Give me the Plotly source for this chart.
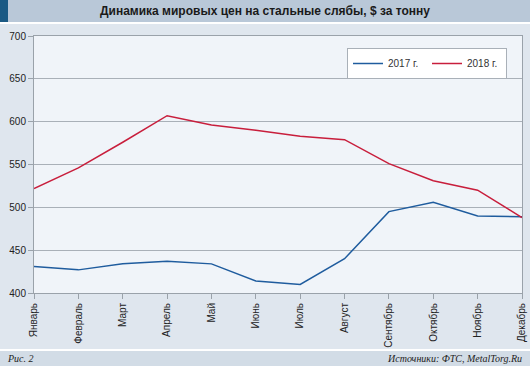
import plotly.graph_objects as go

months = ["Январь", "Февраль", "Март", "Апрель", "Май", "Июнь", "Июль",
          "Август", "Сентябрь", "Октябрь", "Ноябрь", "Декабрь"]
prices_2017 = [431, 427, 434, 437, 434, 414, 410, 440, 495, 506, 490, 489]
prices_2018 = [522, 546, 576, 607, 596, 590, 583, 579, 551, 531, 520, 488]
y_ticks = [400, 450, 500, 550, 600, 650, 700]

W, H = 530, 366
L, R, T, B = 34, 8, 36, 73
pw, ph = W - L - R, H - T - B

def px(x):
    return (x - L) / pw

def py(y):
    return (H - B - y) / ph

fig = go.Figure()
fig.add_trace(go.Scatter(x=months, y=prices_2017, mode="lines", name="2017 г.",
                         line=dict(color="#1f5c9e", width=1.5)))
fig.add_trace(go.Scatter(x=months, y=prices_2018, mode="lines", name="2018 г.",
                         line=dict(color="#c81e3c", width=1.5)))

shapes = [
    dict(type="rect", xref="paper", yref="paper", x0=px(0), x1=px(W), y0=py(22), y1=py(0),
         fillcolor="#b9c8d8", line=dict(width=0), layer="below"),
    dict(type="rect", xref="paper", yref="paper", x0=px(0), x1=px(8), y0=py(22), y1=py(0),
         fillcolor="#1b5a84", line=dict(width=0), layer="below"),
    dict(type="rect", xref="paper", yref="paper", x0=px(0), x1=px(W), y0=py(24), y1=py(22),
         fillcolor="#ffffff", line=dict(width=0), layer="below"),
    dict(type="rect", xref="paper", yref="paper", x0=px(0), x1=px(W), y0=py(351), y1=py(349),
         fillcolor="#ffffff", line=dict(width=0), layer="below"),
    dict(type="rect", xref="paper", yref="paper", x0=px(0), x1=px(W), y0=py(H), y1=py(351),
         fillcolor="#d2dce6", line=dict(width=0), layer="below"),
]

annotations = [
    dict(text="<b>Динамика мировых цен на стальные слябы, $ за тонну</b>",
         xref="paper", yref="paper", x=px(265), y=py(11), showarrow=False,
         xanchor="center", yanchor="middle",
         font=dict(family="Liberation Sans, Arial", size=12, color="#1a1a1a")),
    dict(text="<i>Рис. 2</i>", xref="paper", yref="paper", x=px(5), y=py(358),
         showarrow=False, xanchor="left", yanchor="middle",
         font=dict(family="Liberation Serif, Times New Roman", size=10, color="#222")),
    dict(text="<i>Источники: ФТС, MetalTorg.Ru</i>", xref="paper", yref="paper",
         x=px(524), y=py(358), showarrow=False, xanchor="right", yanchor="middle",
         font=dict(family="Liberation Serif, Times New Roman", size=10, color="#222")),
]

fig.update_layout(
    width=W, height=H,
    margin=dict(l=L, r=R, t=T, b=B, autoexpand=False),
    paper_bgcolor="#dfe6ee",
    plot_bgcolor="#f0f4f9",
    shapes=shapes,
    annotations=annotations,
    showlegend=True,
    legend=dict(orientation="h", x=px(507), xanchor="right", y=py(48), yanchor="top",
                bgcolor="#ffffff", bordercolor="#a9b0b8", borderwidth=1,
                font=dict(family="Liberation Sans, Arial", size=10, color="#333"),
                itemwidth=30, entrywidth=34, tracegroupgap=0),
    xaxis=dict(type="category", range=[0, len(months) - 1], tickangle=-90,
               showgrid=False, ticks="outside", ticklen=5, tickcolor="#9aa2aa",
               showline=True, linecolor="#9aa2aa", linewidth=1, mirror=True,
               tickfont=dict(family="Liberation Sans, Arial", size=10, color="#222"),
               zeroline=False, fixedrange=True, automargin=False),
    yaxis=dict(range=[400, 700], tickvals=y_ticks, showgrid=True, gridcolor="#a9b0b8",
               gridwidth=1, ticks="outside", ticklen=5, tickcolor="#9aa2aa",
               showline=True, linecolor="#9aa2aa", linewidth=1, mirror=True,
               tickfont=dict(family="Liberation Sans, Arial", size=10, color="#222"),
               zeroline=False, fixedrange=True, automargin=False),
)

fig.write_html("out.html", config={"displayModeBar": False},
               post_script="document.body.style.margin='0';document.body.style.padding='0';")
